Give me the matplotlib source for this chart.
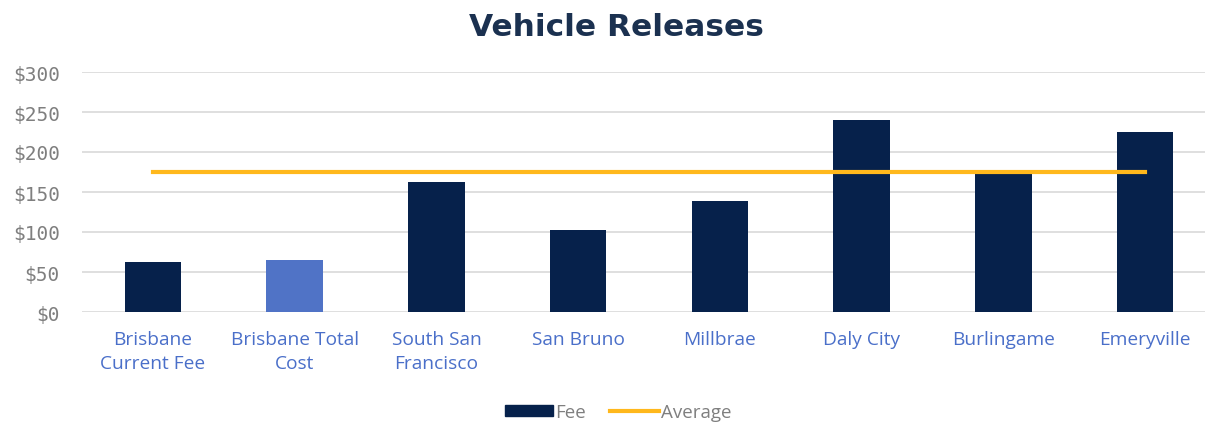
import matplotlib
matplotlib.use("Agg")
import matplotlib.pyplot as plt
import numpy as np

categories = ["Brisbane\nCurrent Fee", "Brisbane Total\nCost", "South San\nFrancisco",
              "San Bruno", "Millbrae", "Daly City", "Burlingame", "Emeryville"]
fees = [62, 65, 163, 103, 139, 240, 172, 225]
average = [175] * len(categories)
yticks = [0, 50, 100, 150, 200, 250, 300]

navy = "#06214B"
light_blue = "#5073C6"
gold = "#FFB81C"
label_blue = "#4A6FC9"
grey_text = "#7F7F7F"

fig = plt.figure(figsize=(12.05, 4.27), dpi=100)
ax = fig.add_axes([82 / 1205, 1 - 313 / 427, (1216 - 82) / 1205, 240 / 427])

x = np.arange(len(categories))
colors = [navy] * len(categories)
colors[1] = light_blue
ax.bar(x, fees, width=0.4, color=colors, zorder=2)
ax.plot(x, average, color=gold, lw=3, zorder=3)

ax.set_xlim(-0.5, len(categories) - 0.5)
ax.set_ylim(0, 300)
ax.set_yticks(yticks)
ax.set_yticklabels(["$%d" % v for v in yticks], family="DejaVu Sans Mono",
                   fontsize=14, color=grey_text)
ax.set_xticks(x)
ax.set_xticklabels(categories, fontsize=13.8, color=label_blue, family="Open Sans",
                   linespacing=1.45)
ax.tick_params(axis="y", length=0, pad=16)
ax.tick_params(axis="x", length=0, pad=13)
ax.grid(axis="y", color="#D9D9D9", lw=1.2, zorder=0)
for s in ax.spines.values():
    s.set_visible(False)

fig.text(616 / 1205, 1 - 27 / 427, "Vehicle Releases", ha="center", va="center",
         fontsize=22.5, fontweight="bold", family="DejaVu Sans", color="#1B3150")

fee_handle = plt.Rectangle((0, 0), 1, 1, color=navy)
avg_handle = plt.Line2D([], [], color=gold, lw=3)
fig.legend([fee_handle, avg_handle], ["Fee", "Average"], loc="center",
           bbox_to_anchor=(618 / 1205, 1 - 413 / 427),
           ncol=2, frameon=False, labelcolor=grey_text,
           handlelength=2.6, handleheight=0.55, handletextpad=0.1, columnspacing=1.3,
           prop={"family": "Open Sans", "size": 13.5})

fig.savefig("out.png", dpi=100)
